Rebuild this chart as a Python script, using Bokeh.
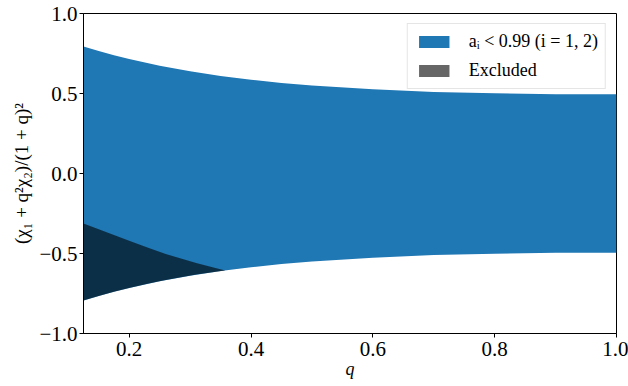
from bokeh.plotting import figure
from bokeh.models import FixedTicker, Legend, LegendItem, Range1d
from bokeh.embed import file_html
from bokeh.resources import INLINE

# Mass ratio grid and the allowed band of the effective spin combination
q_vals = [0.125, 0.15, 0.175, 0.2, 0.25, 0.3, 0.35, 0.4, 0.45, 0.5, 0.6, 0.7, 0.8, 0.9, 1.0]
band_upper = [0.794, 0.765, 0.739, 0.715, 0.673, 0.639, 0.610, 0.586, 0.566, 0.550,
              0.526, 0.510, 0.501, 0.496, 0.495]
band_lower = [-0.794, -0.765, -0.739, -0.715, -0.673, -0.639, -0.610, -0.586, -0.566, -0.550,
              -0.526, -0.510, -0.501, -0.496, -0.495]

# Excluded wedge at low mass ratio
q_excl = [0.125, 0.15, 0.175, 0.2, 0.23, 0.26, 0.285, 0.31, 0.34, 0.358]
excl_top = [-0.312, -0.349, -0.384, -0.420, -0.463, -0.503, -0.532, -0.560, -0.589, -0.606]
excl_bottom = [-0.794, -0.765, -0.739, -0.715, -0.689, -0.666, -0.648, -0.632, -0.615, -0.606]

x_ticks = [0.2, 0.4, 0.6, 0.8, 1.0]
y_ticks = [-1.0, -0.5, 0.0, 0.5, 1.0]
y_tick_labels = {-1.0: "\u22121.0", -0.5: "\u22120.5", 0.0: "0.0", 0.5: "0.5", 1.0: "1.0"}
x_tick_labels = {0.2: "0.2", 0.4: "0.4", 0.6: "0.6", 0.8: "0.8", 1.0: "1.0"}

legend_band = "a\u1d62 < 0.99 (i = 1, 2)"
legend_excl = "Excluded"

FONT = "Liberation Serif"

p = figure(
    width=628, height=386,
    x_range=Range1d(0.125, 1.0), y_range=Range1d(-1.0, 1.0),
    output_backend="svg", toolbar_location=None,
    min_border_left=83, min_border_right=12, min_border_top=13, min_border_bottom=53,
)
p.background_fill_color = "white"
p.border_fill_color = "white"
p.xgrid.visible = False
p.ygrid.visible = False
p.outline_line_color = "black"
p.outline_line_width = 1

band = p.varea(x=q_vals, y1=band_lower, y2=band_upper, fill_color="#1f77b4")
excl = p.varea(x=q_excl, y1=excl_bottom, y2=excl_top, fill_color="black", fill_alpha=0.6)

for ax in (p.xaxis[0], p.yaxis[0]):
    ax.axis_line_color = "black"
    ax.axis_line_width = 1
    ax.major_tick_line_color = "black"
    ax.major_tick_in = 0
    ax.major_tick_out = 4
    ax.minor_tick_line_color = None
    ax.major_label_text_font = FONT
    ax.major_label_text_font_size = "21px"
    ax.major_label_text_color = "black"
    ax.axis_label_text_font = FONT
    ax.axis_label_text_color = "black"

p.xaxis.ticker = FixedTicker(ticks=x_ticks)
p.yaxis.ticker = FixedTicker(ticks=y_ticks)
p.xaxis.major_label_overrides = x_tick_labels
p.yaxis.major_label_overrides = y_tick_labels
p.xaxis.major_label_standoff = 4
p.yaxis.major_label_standoff = 2

p.xaxis.axis_label = "q"
p.xaxis.axis_label_text_font_style = "italic"
p.xaxis.axis_label_text_font_size = "18px"
p.xaxis.axis_label_standoff = 0
p.yaxis.axis_label = "(\u03c7\u2081 + q\u00b2\u03c7\u2082)/(1 + q)\u00b2"
p.yaxis.axis_label_text_font_style = "normal"
p.yaxis.axis_label_text_font_size = "19px"
p.yaxis.axis_label_standoff = 4

legend = Legend(
    items=[LegendItem(label=legend_band, renderers=[band]),
           LegendItem(label=legend_excl, renderers=[excl])],
    location="top_right",
    margin=10, padding=7, spacing=8,
    glyph_width=38, glyph_height=15, label_height=20, label_standoff=16,
    label_text_font=FONT, label_text_font_size="18px", label_text_color="black",
    border_line_color="#cccccc", border_line_width=1,
    background_fill_color="white", background_fill_alpha=0.9,
)
p.add_layout(legend)

open("out.html", "w").write(file_html(p, INLINE))
